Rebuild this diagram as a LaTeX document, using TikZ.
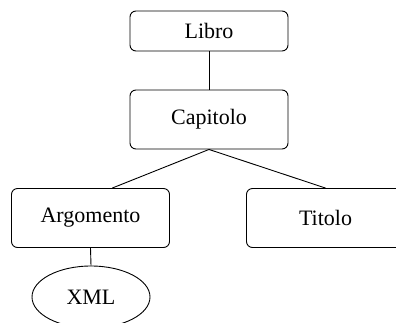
\documentclass[tikz,border=0pt]{standalone}
\usepackage{fontspec}
\setmainfont{Liberation Serif}
\usetikzlibrary{shapes.geometric}
\begin{document}
\begin{tikzpicture}[x=1pt,y=-1pt,
  box/.style={draw,line width=0.9pt,rounded corners=6pt,minimum width=158pt,inner sep=0pt,font=\fontsize{22}{26}\selectfont},
  oval/.style={draw,ellipse,line width=0.9pt,minimum width=118pt,minimum height=62pt,inner sep=0pt,font=\fontsize{22}{26}\selectfont},
  link/.style={line width=0.9pt}]
\useasboundingbox (0,0) rectangle (396,322);
\clip (0,0) rectangle (396,322);
\node[box,minimum height=40pt] (libro) at (209,31) {Libro};
\node[box,minimum height=59pt] (cap) at (209,119.5) {Capitolo};
\node[box,minimum height=59pt] (arg) at (90.5,218) {Argomento};
\node[box,minimum height=59pt] (tit) at (325.5,218) {Titolo};
\node[oval] (xml) at (91,297) {XML};
\draw[link] (libro) -- (cap);
\draw[link] (cap.south) -- (arg.54);
\draw[link] (cap.south) -- (tit.north);
\draw[link] (arg.south) -- (xml.north);
\end{tikzpicture}
\end{document}
